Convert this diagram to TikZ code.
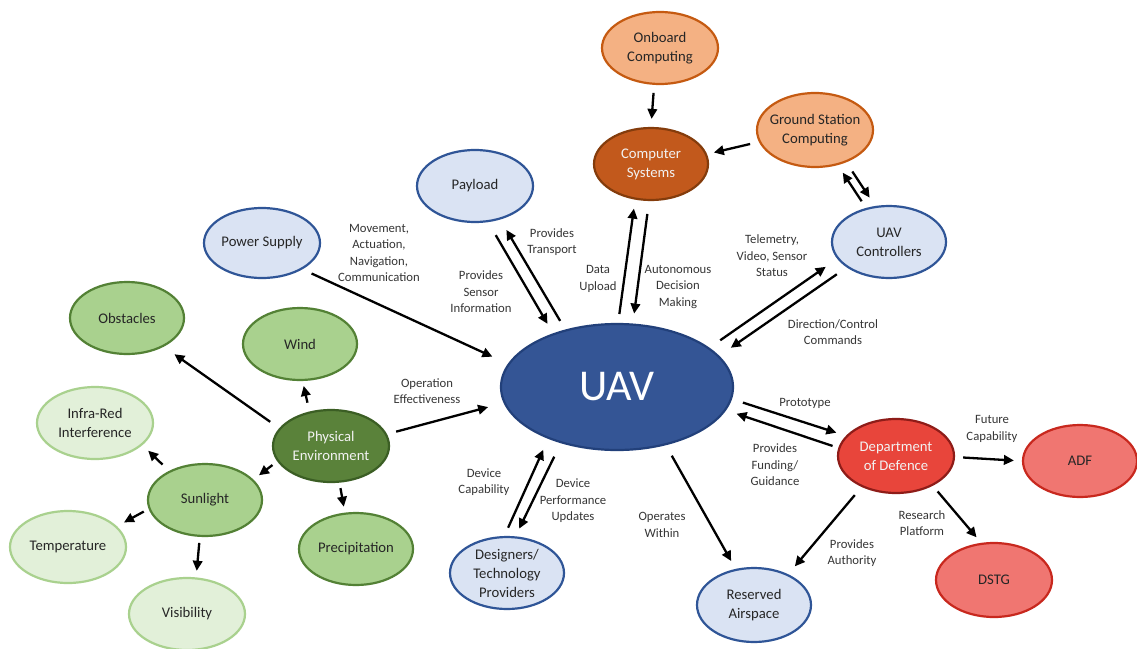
\documentclass[tikz,border=0pt]{standalone}
\usepackage{fontspec}
\setmainfont{Carlito}
\usetikzlibrary{shapes.geometric,arrows.meta}

\definecolor{blueF}{HTML}{DAE3F3}
\definecolor{blueD}{HTML}{2F5597}
\definecolor{uavF}{HTML}{345595}
\definecolor{uavD}{HTML}{22407A}
\definecolor{orF}{HTML}{F4B183}
\definecolor{orD}{HTML}{C55A11}
\definecolor{orDarkF}{HTML}{C2591C}
\definecolor{orDarkD}{HTML}{843C0C}
\definecolor{grF}{HTML}{A9D18E}
\definecolor{grD}{HTML}{538135}
\definecolor{grDarkF}{HTML}{5A823A}
\definecolor{grDarkD}{HTML}{3B5E24}
\definecolor{grLightF}{HTML}{E2F0D9}
\definecolor{grLightD}{HTML}{A9D18E}
\definecolor{redF}{HTML}{E8453B}
\definecolor{redD}{HTML}{8E1C18}
\definecolor{pinkF}{HTML}{F07671}
\definecolor{pinkD}{HTML}{C8281E}
\definecolor{txtgray}{HTML}{262626}
\definecolor{labgray}{HTML}{363636}

\tikzset{
  bub/.style={ellipse, line width=2.2pt, inner xsep=-12pt, inner ysep=-10pt,
    align=center, font=\fontsize{14.7}{19}\selectfont, text=txtgray},
  sz/.style 2 args={minimum width=#1pt, minimum height=#2pt},
  blueN/.style={fill=blueF, draw=blueD},
  orN/.style={fill=orF, draw=orD},
  orDark/.style={fill=orDarkF, draw=orDarkD, text=white!95!black},
  grN/.style={fill=grF, draw=grD},
  grDark/.style={fill=grDarkF, draw=grDarkD, text=white!95!black},
  grLight/.style={fill=grLightF, draw=grLightD},
  redN/.style={fill=redF, draw=redD, text=white!95!black},
  pinkN/.style={fill=pinkF, draw=pinkD},
  lab/.style={align=center, inner sep=0pt, text=labgray,
    font=\fontsize{12.7}{16.5}\selectfont},
  arr/.style={line width=2.3pt, -{Triangle[length=10pt,width=9.5pt]}},
  g/.style 2 args={shorten <=#1pt, shorten >=#2pt}
}

\begin{document}
\begin{tikzpicture}[x=1pt,y=-1pt]
\useasboundingbox (0,0) rectangle (1137,648);
\fill[white] (0,0) rectangle (1137,648);

% central vehicle
\node[bub, fill=uavF, draw=uavD, sz={232}{126}, text=white,
      font=\fontsize{44}{50}\selectfont] (uav) at (617,387) {UAV};

% computing cluster
\node[bub, orN, sz={116}{72}] (ob) at (660,48) {Onboard\\Computing};
\node[bub, orDark, sz={114}{72}] (cs) at (651,164) {Computer\\Systems};
\node[bub, orN, sz={116}{74}] (gs) at (815,130) {Ground Station\\Computing};

% blue stakeholders and resources
\node[bub, blueN, sz={114}{72}] (uc) at (889,242) {UAV\\Controllers};
\node[bub, blueN, sz={116}{72}] (pl) at (475,186) {Payload};
\node[bub, blueN, sz={116}{70}] (ps) at (262,243) {Power Supply};
\node[bub, blueN, sz={114}{72}] (des) at (507,573) {Designers/\\Technology\\Providers};
\node[bub, blueN, sz={114}{74}] (ra) at (754,605) {Reserved\\Airspace};

% environment
\node[bub, grN, sz={114}{72}] (obs) at (127,318) {Obstacles};
\node[bub, grN, sz={114}{72}] (wind) at (300,344) {Wind};
\node[bub, grDark, sz={116}{72}] (pe) at (331,446) {Physical\\Environment};
\node[bub, grN, sz={114}{72}] (sun) at (205,500) {Sunlight};
\node[bub, grN, sz={114}{72}] (pre) at (356,549) {Precipitation};
\node[bub, grLight, sz={116}{72}] (ir) at (95,423) {Infra-Red\\Interference};
\node[bub, grLight, sz={116}{72}] (temp) at (68,547) {Temperature};
\node[bub, grLight, sz={116}{72}] (vis) at (187,614) {Visibility};

% defence
\node[bub, redN, sz={116}{74}] (dod) at (896,456) {Department\\of Defence};
\node[bub, pinkN, sz={114}{72}] (adf) at (1080,461) {ADF};
\node[bub, pinkN, sz={116}{74}] (dstg) at (994,580) {DSTG};

% connectors
\draw[arr, g={8}{8}] (ob.-99) -- (cs.90);
\draw[arr, g={9}{7}] (gs.-168.5) -- (cs.10);
\draw[arr, g={8}{9}] (uc.124) -- (gs.-57);
\draw[arr, g={11}{10}] (gs.-46.5) -- (uc.111);
\draw[arr, g={13}{14}] (uav.23) -- (uc.-162);
\draw[arr, g={12}{14}] (uc.-149) -- (uav.17);
\draw[arr, g={9}{9}] (uav.89) -- (cs.-114);
\draw[arr, g={13}{10}] (cs.-93.5) -- (uav.76);
\draw[arr, g={15}{11}] (pl.-70) -- (uav.140);
\draw[arr, g={10}{12}] (uav.132) -- (pl.-53);
\draw[arr, g={10}{17}] (ps.-33) -- (uav.168);
\draw[arr, g={9.5}{16}] (pe.12) -- (uav.-172);
\draw[arr, g={11}{13}] (pe.161) -- (obs.-38);
\draw[arr, g={9}{5}] (pe.122) -- (wind.-86);
\draw[arr, g={6}{7}] (pe.-164) -- (sun.23.5);
\draw[arr, g={5.5}{6}] (pe.-77.6) -- (pre.107.6);
\draw[arr, g={9}{8}] (sun.141) -- (ir.-25);
\draw[arr, g={5.5}{8}] (sun.-171.6) -- (temp.23.6);
\draw[arr, g={6}{6.6}] (sun.-98) -- (vis.76.6);
\draw[arr, g={9}{12}] (des.94) -- (uav.-143);
\draw[arr, g={15}{8.5}] (uav.-135) -- (des.77);
\draw[arr, g={12}{9}] (uav.-50.6) -- (ra.117);
\draw[arr, g={11.5}{10}] (uav.-6.4) -- (dod.158.7);
\draw[arr, g={6}{11}] (dod.172.8) -- (uav.-12.4);
\draw[arr, g={8}{8}] (dod.-1) -- (adf.180);
\draw[arr, g={7.4}{7.2}] (dod.-39.7) -- (dstg.109);
\draw[arr, g={10.6}{10.3}] (dod.-138.6) -- (ra.42);

% connector labels
\node[lab] (lmov) at (379,253) {Movement,\\Actuation,\\Navigation,\\Communication};
\node[lab] (lsens) at (481,292) {Provides\\Sensor\\Information};
\node[lab] (ltrans) at (552,242) {Provides\\Transport};
\node[lab] (ldata) at (598,279) {Data\\Upload};
\node[lab] (lauto) at (678,287) {Autonomous\\Decision\\Making};
\node[lab] (ltel) at (772,256) {Telemetry,\\Video, Sensor\\Status};
\node[lab] (ldir) at (833,332) {Direction/Control\\Commands};
\node[lab] (lop) at (427,391) {Operation\\Effectiveness};
\node[lab] (lproto) at (805,403) {Prototype};
\node[lab] (lfund) at (775,465) {Provides\\Funding/\\Guidance};
\node[lab] (lfut) at (992,429) {Future\\Capability};
\node[lab] (lres) at (922,523) {Research\\Platform};
\node[lab] (lauth) at (852,553) {Provides\\Authority};
\node[lab] (ldevcap) at (484,482) {Device\\Capability};
\node[lab] (ldevperf) at (573,501) {Device\\Performance\\Updates};
\node[lab] (lopw) at (662,525) {Operates\\Within};
\end{tikzpicture}
\end{document}
